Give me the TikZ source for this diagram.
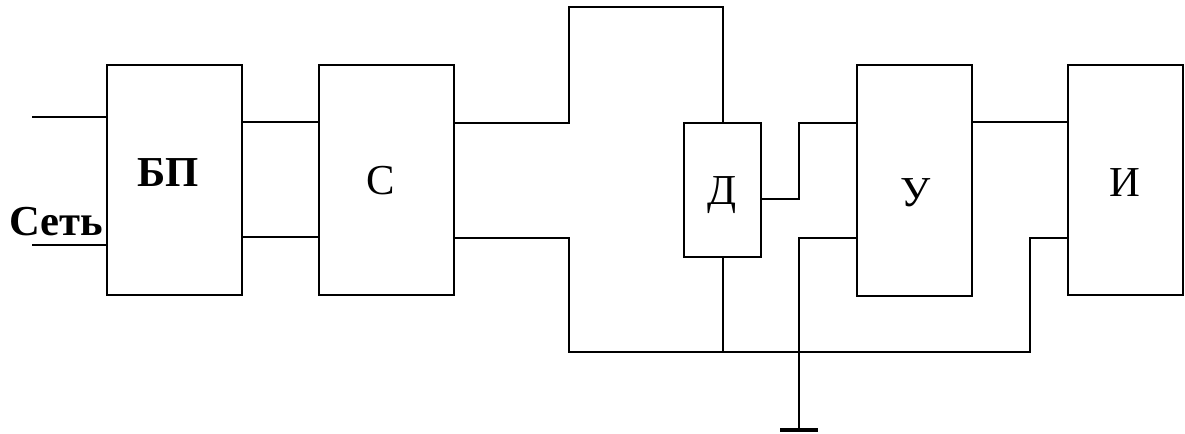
\documentclass[tikz,border=0pt]{standalone}
\usepackage{fontspec}
\setmainfont{Liberation Serif}
\begin{document}
\begin{tikzpicture}[x=0.75pt,y=-0.75pt,
  wire/.style={line width=1.5pt, line join=miter},
  block/.style={draw, line width=1.5pt, rectangle, inner sep=0pt, outer sep=0pt},
  wide/.style={block, minimum width=101.25pt, minimum height=172.5pt},
  narrow/.style={block, minimum width=86.25pt, minimum height=173pt},
  lbl/.style={font=\fontsize{32}{38}\selectfont, inner sep=0pt, anchor=base},
  blbl/.style={lbl, font=\fontsize{32}{38}\selectfont\bfseries}]
\useasboundingbox (0,0) rectangle (1185,434);

% functional blocks
\node[wide]   (bp) at (174.5,180) {};
\node[wide]   (c)  at (386.5,180) {};
\node[block, minimum width=57.75pt, minimum height=100.5pt] (d) at (722.5,190) {};
\node[narrow] (u)  at (914.5,180.5) {};
\node[narrow] (i)  at (1125.5,180) {};

% block captions
\node[blbl] (bpt) at (168,187) {БП};
\node[lbl]  (ct)  at (381,195) {С};
\node[lbl]  (dt)  at (722,205) {Д};
\node[lbl]  (ut)  at (916,207) {У};
\node[lbl]  (it)  at (1125,197) {И};
\node[blbl] (net) at (56,236) {Сеть};

% mains input
\coordinate (in1) at (32,117);
\coordinate (in2) at (32,245);
\draw[wire] (in1) -- (in1 -| bp.west);
\draw[wire] (in2) -- (in2 -| bp.west);

% power supply to C
\draw[wire] (bp.east |- 0,122) -- (c.west |- 0,122);
\draw[wire] (bp.east |- 0,237) -- (c.west |- 0,237);

% C upper output to the top of Д
\draw[wire] (c.east |- 0,123) -- (569,123) -- (569,7) -- (d.north |- 0,7) -- (d.north);

% common bus
\draw[wire] (c.east |- 0,238) -- (569,238) -- (569,352) -- (1030,352) -- (1030,238) -- (i.west |- 0,238);
\draw[wire] (d.south) -- (d.south |- 0,352);

% Д output to У
\draw[wire] (d.east |- 0,199) -- (799,199) -- (799,123) -- (u.west |- 0,123);

% У lower input to ground
\coordinate (gnd) at (799,430);
\draw[wire] (u.west |- 0,238) -- (799,238) -- (gnd);
\draw[line width=3pt] ([xshift=-14.25pt]gnd) -- ([xshift=14.25pt]gnd);

% У to И
\draw[wire] (u.east |- 0,122) -- (i.west |- 0,122);
\end{tikzpicture}
\end{document}
